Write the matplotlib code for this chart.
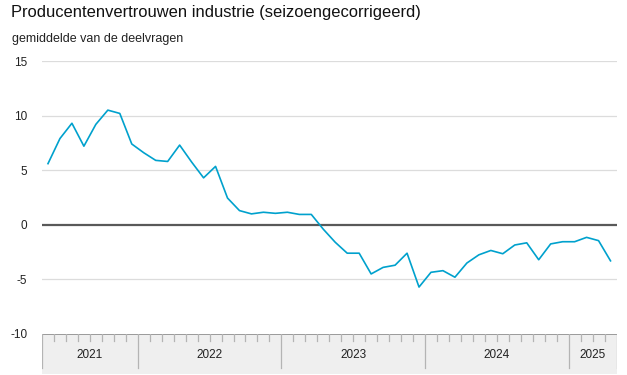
import pandas as pd
import matplotlib
matplotlib.use('Agg')
import matplotlib.pyplot as plt

plt.rcParams['font.family'] = ['Liberation Sans', 'DejaVu Sans']

TITLE = 'Producentenvertrouwen industrie (seizoengecorrigeerd)'
SUBTITLE = 'gemiddelde van de deelvragen'

# maanden mei 2021 t/m april 2025
months = pd.period_range('2021-05', '2025-04', freq='M')
values = [5.6, 7.9, 9.3, 7.2, 9.2, 10.5, 10.2, 7.4,
          6.6, 5.9, 5.8, 7.3, 5.75, 4.3, 5.35, 2.45, 1.3, 1.0, 1.15, 1.05,
          1.15, 0.95, 0.95, -0.4, -1.6, -2.6, -2.6, -4.5, -3.9, -3.7, -2.6, -5.7,
          -4.35, -4.2, -4.8, -3.5, -2.75, -2.35, -2.65, -1.85, -1.65, -3.2, -1.75, -1.55,
          -1.55, -1.15, -1.45, -3.3]
yticks = [-10, -5, 0, 5, 10, 15]

LINE_COLOR = '#00a1cd'
GRID_COLOR = '#dcdcdc'
BAND_COLOR = '#efefef'

W, H = 627, 375
fig = plt.figure(figsize=(W / 100, H / 100), dpi=100)

x = list(range(len(months)))
xlim = (-0.5, len(months) - 0.5)
left, width = 42 / W, (616.5 - 42) / W

# main plot area
ax = fig.add_axes([left, 1 - 334 / H, width, (334 - 61) / H])
ax.plot(x, values, color=LINE_COLOR, linewidth=1.2, zorder=3)
ax.set_xlim(*xlim)
ax.set_ylim(-10, 15)
ax.set_yticks(yticks)
ax.set_yticklabels([str(t) for t in yticks], fontsize=8.5, color='#222222')
ax.tick_params(axis='y', length=0, pad=10.5)
ax.set_xticks([])
for t in yticks:
    if t == 0:
        ax.axhline(0, color='#595959', linewidth=1.6, zorder=2)
    elif t > -10:
        ax.axhline(t, color=GRID_COLOR, linewidth=0.9, zorder=1)
for s in ax.spines.values():
    s.set_visible(False)

# time axis band underneath
band = fig.add_axes([left, 1 - 374 / H, width, 40 / H])
band.set_xlim(*xlim)
band.set_ylim(0, 40)
band.set_facecolor(BAND_COLOR)
band.set_xticks([])
band.set_yticks([])
for s in band.spines.values():
    s.set_visible(False)
band.axhline(40, color='#8c8c8c', linewidth=1.2)

years = [p.year for p in months]
for i in range(len(months) + 1):
    xb = i - 0.5
    if i == 0 or i == len(months) or months[i].month == 1:
        band.plot([xb, xb], [40, 6], color='#b4b4b4', linewidth=0.9)
    else:
        band.plot([xb, xb], [40, 33], color='#b4b4b4', linewidth=0.9)

for yr in sorted(set(years)):
    idx = [i for i, y in enumerate(years) if y == yr]
    mid = (idx[0] + idx[-1]) / 2
    band.text(mid, 19, str(yr), ha='center', va='center', fontsize=8.5, color='#222222')

fig.text(11 / W, 1 - 16.5 / H, TITLE, fontsize=11.9, color='#111111', va='baseline')
fig.text(12 / W, 1 - 42 / H, SUBTITLE, fontsize=9.0, color='#222222', va='baseline')

fig.savefig('out.png', dpi=100)
